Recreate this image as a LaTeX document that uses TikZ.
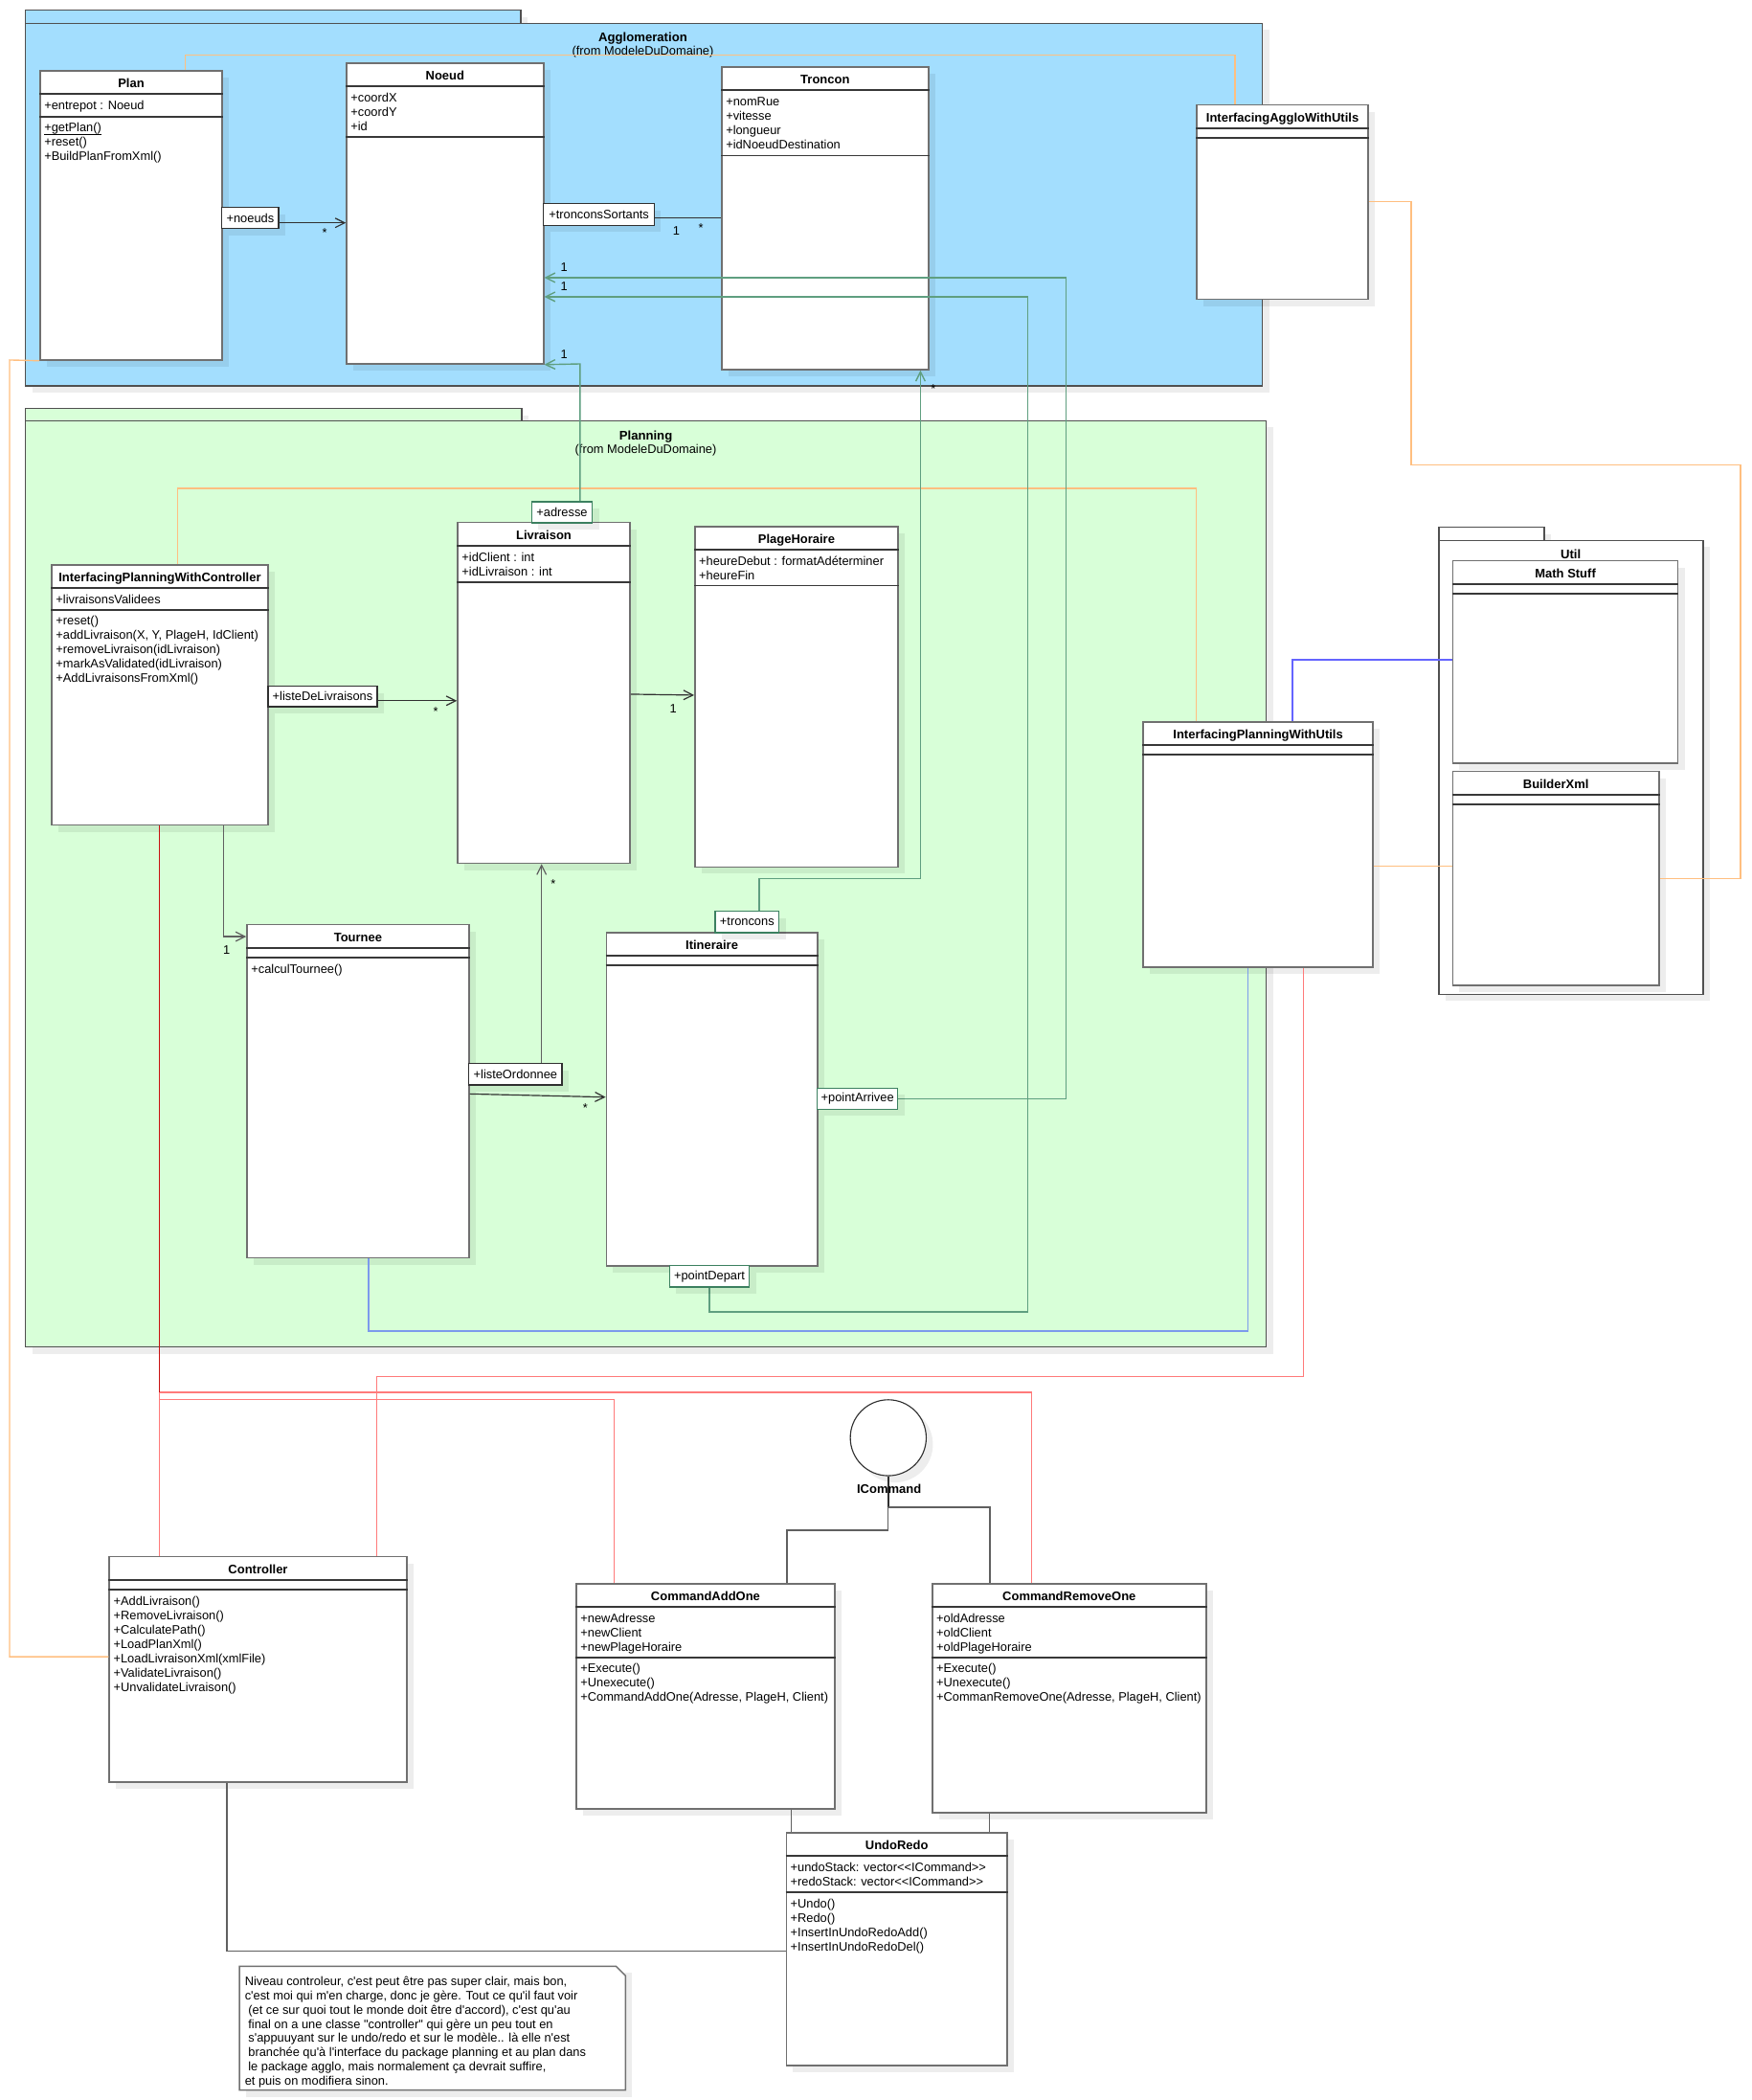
\documentclass[tikz,border=0pt]{standalone}
\usepackage{fontspec}
\setmainfont{Liberation Sans}[Ligatures=TeXOff]
\usetikzlibrary{calc,arrows.meta,shadows}
\definecolor{aggloFill}{HTML}{A3DEFE}
\definecolor{planFill}{HTML}{D8FFD8}
\definecolor{clsDraw}{HTML}{707070}
\definecolor{sepDraw}{HTML}{383838}
\definecolor{pkgDraw}{HTML}{505050}
\definecolor{assocC}{HTML}{303030}
\definecolor{grayC}{HTML}{606060}
\definecolor{orangeC}{HTML}{FFBF80}
\definecolor{greenC}{HTML}{5F9F80}
\definecolor{greenLbl}{HTML}{3C8060}
\definecolor{redC}{HTML}{FF7A7A}
\definecolor{darkRedC}{HTML}{C81010}
\definecolor{blueA}{HTML}{6464FF}
\definecolor{blueB}{HTML}{7C9AEC}
\newcommand\firststrut{\rule{0pt}{9pt}}
% #1 name #2 x #3 y #4 w #5 h #6 title #7 attr height #8 attrs #9 methods
\newcommand\umlclass[9]{%
  \node[clsbox, minimum width=#4pt, minimum height=#5pt] (#1) at (#2+#4/2,-#3-#5/2) {};
  \node[clstitle] (#1-t) at ($(#1.north)+(0,-13.1)$) {#6};
  \draw[sepline] ($(#1.north west)+(0,-18)$) -- ($(#1.north east)+(0,-18)$);
  \draw[sepline] ($(#1.north west)+(0,-18-#7)$) -- ($(#1.north east)+(0,-18-#7)$);
  \node[clstext] (#1-a) at ($(#1.north west)+(3.5,-20.4)$) {\firststrut #8};
  \node[clstext] (#1-m) at ($(#1.north west)+(3.5,-20.4-#7)$) {\firststrut #9};
}
\begin{document}
\begin{tikzpicture}[x=1pt,y=1pt,
  shadowed/.style={drop shadow={shadow xshift=5pt,shadow yshift=-5pt,opacity=0.07,fill=black}},
  clsbox/.style={draw=clsDraw, fill=white, line width=1.1pt, inner sep=0pt, shadowed},
  clstitle/.style={font=\fontsize{9.3}{11}\selectfont\bfseries, inner sep=0pt, anchor=base},
  clstext/.style={font=\fontsize{9.2}{10.7}\selectfont, align=left, anchor=north west, inner sep=0pt},
  plaintext/.style={font=\fontsize{9.2}{10.7}\selectfont, inner sep=0pt},
  sepline/.style={draw=sepDraw, line width=1.3pt},
  pkgbox/.style={draw=pkgDraw, line width=1.1pt, inner sep=0pt, anchor=north west, shadowed},
  lblbox/.style={draw=#1, fill=white, line width=0.9pt, inner sep=0pt, font=\fontsize{9.2}{10.7}\selectfont, shadowed},
  mult/.style={font=\fontsize{9.2}{10.7}\selectfont, inner sep=0pt},
  assoc/.style={draw=assocC, line width=0.85pt},
  grayline/.style={draw=grayC, line width=0.85pt},
  openarrow/.style={-{Straight Barb[length=7pt,width=7pt]}},
  orangeline/.style={draw=orangeC, line width=1pt},
  greenline/.style={draw=greenC, line width=1pt},
  redline/.style={draw=redC, line width=1pt},
  darkredline/.style={draw=darkRedC, line width=1.2pt},
  blueAline/.style={draw=blueA, line width=1pt},
  blueBline/.style={draw=blueB, line width=1.1pt}
]
\useasboundingbox (0,0) rectangle (1310.2,-1570.9);
\fill[white] (0,0) rectangle (1310.2,-1570.9);

% ---------- packages ----------
\node[pkgbox, fill=aggloFill, minimum width=370.5pt, minimum height=10pt] (aggloTab) at (18.5,-7) {};
\node[pkgbox, fill=aggloFill, minimum width=925.5pt, minimum height=271pt] (agglo) at (18.5,-17) {};
\node[clstitle, font=\fontsize{9.4}{11}\selectfont\bfseries] (aggloTitle) at (481,-30.9) {Agglomeration};
\node[plaintext, anchor=base] (aggloFrom) at (481,-41.5) {(from ModeleDuDomaine)};

\node[pkgbox, fill=planFill, minimum width=371.3pt, minimum height=9.2pt] (planTab) at (18.5,-305) {};
\node[pkgbox, fill=planFill, minimum width=928.3pt, minimum height=692.8pt] (planning) at (18.5,-314.2) {};
\node[clstitle, font=\fontsize{9.4}{11}\selectfont\bfseries] (planTitle) at (483.2,-328.9) {Planning};
\node[plaintext, anchor=base] (planFrom) at (483.2,-339.5) {(from ModeleDuDomaine)};

\node[pkgbox, fill=white, minimum width=79pt, minimum height=10pt] (utilTab) at (1076,-393.8) {};
\node[pkgbox, fill=white, minimum width=197.9pt, minimum height=339.5pt] (util) at (1076,-403.8) {};
\node[clstitle, font=\fontsize{9.4}{11}\selectfont\bfseries] (utilTitle) at (1175.2,-417.7) {Util};

% ---------- classes ----------
\umlclass{plan}{30}{53}{136.3}{216.3}{Plan}{16.7}{+entrepot : Noeud}{\underline{\smash{+getPlan()}}\\+reset()\\+BuildPlanFromXml()}
\umlclass{noeud}{259.3}{47.3}{147.4}{224.9}{Noeud}{37.9}{+coordX\\+coordY\\+id}{}
\umlclass{troncon}{540}{50.1}{154.7}{226.4}{Troncon}{48.8}{+nomRue\\+vitesse\\+longueur\\+idNoeudDestination}{}
\umlclass{iawu}{895.4}{78.5}{128.3}{145.5}{InterfacingAggloWithUtils}{7.1}{}{}
\umlclass{ipwc}{38.7}{422.6}{161.8}{194.6}{InterfacingPlanningWithController}{16.1}{+livraisonsValidees}{+reset()\\+addLivraison(X, Y, PlageH, IdClient)\\+removeLivraison(idLivraison)\\+markAsValidated(idLivraison)\\+AddLivraisonsFromXml()}
\umlclass{livraison}{342.4}{390.9}{129}{254.9}{Livraison}{26.9}{+idClient : int\\+idLivraison : int}{}
\umlclass{plage}{519.9}{394}{152.1}{254.6}{PlageHoraire}{26.6}{+heureDebut : formatAdéterminer\\+heureFin}{}
\umlclass{tournee}{184.8}{691.7}{166.1}{249.3}{Tournee}{7.1}{}{+calculTournee()}
\umlclass{itin}{453.7}{697.5}{157.9}{249.3}{Itineraire}{7.1}{}{}
\umlclass{ipwu}{855.4}{540}{171.8}{183.5}{InterfacingPlanningWithUtils}{7.2}{}{}
\umlclass{math}{1087}{419.5}{168.5}{151.5}{Math Stuff}{7.2}{}{}
\umlclass{builder}{1087}{577.1}{154.3}{160}{BuilderXml}{7.1}{}{}
\umlclass{controller}{81.8}{1164.5}{222.5}{168.6}{Controller}{7.4}{}{+AddLivraison()\\+RemoveLivraison()\\+CalculatePath()\\+LoadPlanXml()\\+LoadLivraisonXml(xmlFile)\\+ValidateLivraison()\\+UnvalidateLivraison()}
\umlclass{cao}{431.2}{1184.8}{193.4}{168.4}{CommandAddOne}{37.5}{+newAdresse\\+newClient\\+newPlageHoraire}{+Execute()\\+Unexecute()\\+CommandAddOne(Adresse, PlageH, Client)}
\umlclass{cro}{697.5}{1184.8}{205}{171}{CommandRemoveOne}{37.5}{+oldAdresse\\+oldClient\\+oldPlageHoraire}{+Execute()\\+Unexecute()\\+CommanRemoveOne(Adresse, PlageH, Client)}
\umlclass{undo}{588.3}{1371}{165.4}{174}{UndoRedo}{27.2}{+undoStack: vector<<ICommand>>\\+redoStack: vector<<ICommand>>}{+Undo()\\+Redo()\\+InsertInUndoRedoAdd()\\+InsertInUndoRedoDel()}

% interface
\node[circle, draw=assocC, fill=white, line width=0.8pt, minimum size=56.8pt, inner sep=0pt, shadowed] (icmd) at (664.6,-1075.5) {};

% note
\node[minimum width=288.5pt, minimum height=92.1pt, inner sep=0pt, anchor=north west] (note) at (179.1,-1470.9) {};
\fill[black, opacity=0.07] ($(note.north west)+(5,-5)$) rectangle ($(note.south east)+(5,-5)$);
\filldraw[fill=white, draw=clsDraw, line width=1.1pt] (note.north west) -- ($(note.north east)+(-7,0)$) -- ($(note.north east)+(0,-7)$) -- (note.south east) -- (note.south west) -- cycle;
\node[clstext] (notetext) at (183,-1475.9) {\firststrut Niveau controleur, c'est peut être pas super clair, mais bon,\\
c'est moi qui m'en charge, donc je gère. Tout ce qu'il faut voir\\
\hspace*{2.6pt}(et ce sur quoi tout le monde doit être d'accord), c'est qu'au\\
\hspace*{2.6pt}final on a une classe "controller" qui gère un peu tout en\\
\hspace*{2.6pt}s'appuuyant sur le undo/redo et sur le modèle.. là elle n'est\\
\hspace*{2.6pt}branchée qu'à l'interface du package planning et au plan dans\\
\hspace*{2.6pt}le package agglo, mais normalement ça devrait suffire,\\
et puis on modifiera sinon.};

% ---------- connectors ----------
% orange
\draw[orangeline] (plan.north -| 138.8,0) -- (138.8,-41.2) -- (924,-41.2) -- (iawu.north -| 924,0);
\draw[orangeline] (iawu.east |- 0,-150.6) -- (1055.8,-150.6) -- (1055.8,-347.8) -- (1302.3,-347.8) -- (1302.3,-657.4) -- (builder.east |- 0,-657.4);
\draw[orangeline] (plan.south west) -- (7.2,-269.3) -- (7.2,-1239.3) -- (controller.west |- 0,-1239.3);
\draw[orangeline] (ipwc.north -| 133,0) -- (133,-365.3) -- (895.1,-365.3) -- (ipwu.north -| 895.1,0);
\draw[orangeline] (ipwu.east |- 0,-648) -- (builder.west |- 0,-648);
% blue
\draw[blueAline] (ipwu.north -| 967,0) -- (967,-493.6) -- (math.west |- 0,-493.6);
\draw[blueBline] (tournee.south -| 275.6,0) -- (275.6,-995.5) -- (933.6,-995.5) -- (ipwu.south -| 933.6,0);
% red
\draw[redline] (ipwu.south -| 975.4,0) -- (975.4,-1029.8) -- (281.7,-1029.8) -- (controller.north -| 281.7,0);
\draw[redline] (119.2,-1041.6) -- (772,-1041.6) -- (cro.north -| 772,0);
\draw[redline] (119.2,-1041.6) -- (controller.north -| 119.2,0);
\draw[redline] (119.2,-1046.8) -- (459.7,-1046.8) -- (cao.north -| 459.7,0);
\draw[darkredline] (ipwc.south -| 119.2,0) -- (119.2,-1041.6);
% associations (black)
\node[lblbox=assocC, minimum width=42.5pt, minimum height=15.8pt] (lnoeuds) at (187.25,-163.1) {+noeuds};
\node[lblbox=assocC, minimum width=82.9pt, minimum height=16.2pt] (lsortants) at (448.15,-160.5) {+tronconsSortants};
\node[lblbox=assocC, minimum width=81.8pt, minimum height=15.3pt] (lliste) at (241.4,-521.05) {+listeDeLivraisons};
\node[lblbox=assocC, minimum width=69.5pt, minimum height=16pt] (lordo) at (385.65,-803.6) {+listeOrdonnee};
\draw[assoc, openarrow] (lnoeuds.east |- 0,-166.7) -- (noeud.west |- 0,-166.7);
\draw[assoc] (lsortants.east |- 0,-163.1) -- (troncon.west |- 0,-163.1);
\draw[assoc, openarrow] (lliste.east |- 0,-524.2) -- (livraison.west |- 0,-524.2);
\draw[assoc, openarrow] (livraison.east |- 0,-519.3) -- (plage.west |- 0,-520);
\draw[grayline, openarrow] (ipwc.south -| 167.3,0) -- (167.3,-700.6) -- (tournee.west |- 0,-700.6);
\draw[grayline, openarrow] (lordo.north -| 405.2,0) -- (livraison.south -| 405.2,0);
\draw[assoc, openarrow] (tournee.east |- 0,-818.3) -- (itin.west |- 0,-820.7);
% associations (green)
\draw[greenline, openarrow] (641.6,-821.9) -- (797.6,-821.9) -- (797.6,-207.7) -- (noeud.east |- 0,-207.7);
\draw[greenline, openarrow] (530.8,-954.75) -- (530.8,-981.4) -- (768.8,-981.4) -- (768.8,-222) -- (noeud.east |- 0,-222);
\draw[greenline, openarrow] (434,-383.2) -- (434,-272.2) -- (noeud.south east);
\draw[greenline, openarrow] (568,-689.7) -- (568,-657.1) -- (688.7,-657.1) -- (troncon.south -| 688.7,0);
\node[lblbox=greenLbl, minimum width=45.4pt, minimum height=15.8pt] (ladresse) at (420.5,-383.2) {+adresse};
\node[lblbox=greenLbl, minimum width=47.7pt, minimum height=16pt] (ltroncons) at (558.95,-689.7) {+troncons};
\node[lblbox=greenLbl, minimum width=60pt, minimum height=15.7pt] (larrivee) at (641.6,-821.85) {+pointArrivee};
\node[lblbox=greenLbl, minimum width=59.6pt, minimum height=15.9pt] (ldepart) at (530.8,-954.75) {+pointDepart};
% multiplicities
\node[mult] (m1) at (243,-174.3) {*};
\node[mult] (m2) at (506,-172.4) {1};
\node[mult] (m3) at (524.5,-170.7) {*};
\node[mult] (m4) at (422,-200) {1};
\node[mult] (m5) at (422,-214.4) {1};
\node[mult] (m6) at (422,-265) {1};
\node[mult] (m7) at (698.4,-290.8) {*};
\node[mult] (m8) at (326,-532) {*};
\node[mult] (m9) at (503.8,-530) {1};
\node[mult] (m10) at (169.6,-710.8) {1};
\node[mult] (m11) at (414,-661) {*};
\node[mult] (m12) at (438,-829) {*};
% ICommand realisations
\draw[draw=assocC, line width=1.1pt] (icmd.south) -- (664.6,-1127.5);
\draw[grayline] (664.6,-1127.5) -- (740.7,-1127.5) -- (cro.north -| 740.7,0);
\draw[grayline] (664.6,-1127.5) -- (664.6,-1144.7) -- (588.8,-1144.7) -- (cao.north -| 588.8,0);
\node[clstitle] (icmdLabel) at (665.2,-1116.8) {ICommand};
% undo/redo links
\draw[grayline] (cao.south -| 592.2,0) -- (undo.north -| 592.2,0);
\draw[grayline] (cro.south -| 740.3,0) -- (undo.north -| 740.3,0);
\draw[grayline] (controller.south -| 169.8,0) -- (169.8,-1459.4) -- (undo.west |- 0,-1459.4);
\end{tikzpicture}
\end{document}
